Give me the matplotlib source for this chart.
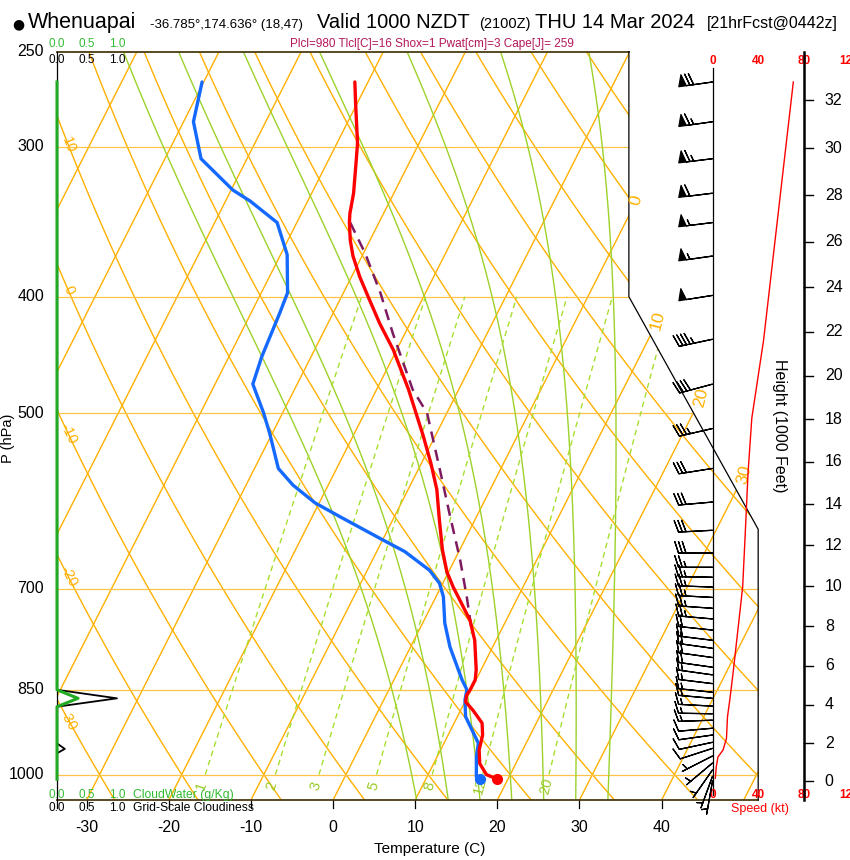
import numpy as np
import matplotlib
matplotlib.use("Agg")
import matplotlib.pyplot as plt
from matplotlib.path import Path
from matplotlib.patches import PathPatch
from matplotlib.transforms import offset_copy

plt.rcParams['font.family'] = ['Liberation Sans', 'DejaVu Sans']

# ---- sounding (hPa / deg C) ----
temp_p = [265, 276, 298, 308, 328, 341, 347, 359, 370, 385, 401, 421, 443, 478, 491,
          523, 551, 579, 614, 650, 678, 698, 720, 744, 773, 818, 834, 850, 859, 870,
          884, 906, 927, 954, 979, 1000, 1009]
temp_c = [-41.6, -40.2, -37.5, -36.6, -34.9, -34.1, -33.6, -32.4, -31.1, -29.0, -26.6, -23.7,
          -20.4, -16.1, -14.7, -11.4, -8.8, -6.5, -4.3, -2.1, -0.2, 1.5, 3.5, 5.6, 7.4, 9.4,
          9.9, 9.9, 9.8, 10.1, 11.5, 13.4, 14.2, 14.7, 15.6, 17.1, 18.7]
dewp_p = [265, 286, 307, 326, 333, 347, 369, 397, 413, 449, 473, 500, 520, 556, 574, 594,
          610, 638, 652, 676, 693, 711, 748, 783, 834, 850, 867, 895, 924, 942, 967, 1004, 1009]
dewp_c = [-60.2, -58.8, -55.6, -49.8, -47.0, -42.4, -39.2, -36.8, -36.5, -36.0, -35.4, -32.3,
          -30.3, -27.1, -24.3, -20.5, -16.6, -9.9, -6.6, -2.4, -0.4, 0.9, 2.7, 4.8, 8.3, 9.5,
          9.9, 11.0, 13.0, 14.2, 14.8, 16.0, 16.6]
parcel_p = [347, 368, 397, 429, 478, 500, 558, 606, 663, 712, 758]
parcel_c = [-33.5, -29.8, -25.5, -21.5, -15.6, -12.4, -7.3, -3.5, 0.7, 3.8, 6.4]
sfc_p = 1009
sfc_t = 18.7
sfc_td = 16.6

# wind barbs
wind_p = [265, 286, 307, 328, 347, 370, 399, 434, 473, 515, 556, 593, 626, 654, 672, 685,
          698, 712, 727, 742, 758, 773, 785, 799, 814, 826, 840, 854, 864, 877, 890, 901,
          915, 927, 940, 951, 965, 978, 991, 1003, 1012]
wind_kt = [70, 67, 63, 60, 56, 53, 49, 45, 39, 34, 31, 30, 28, 28, 27, 27, 26, 25, 24, 23,
           22, 21, 20, 19, 18, 17, 17, 16, 15, 14, 13, 13, 12, 12, 11, 9, 6, 5, 4, 4, 3]
wind_dir = [262, 262, 263, 263, 263, 262, 261, 258, 255, 257, 261, 265, 267, 270, 270, 271,
            272, 273, 274, 275, 276, 277, 278, 278, 278, 278, 277, 276, 275, 273, 271, 268,
            265, 262, 258, 252, 243, 230, 215, 200, 190]

# wind speed profile (kt)
spd_p = [265, 435, 505, 561, 617, 698, 758, 823, 867, 895, 933, 954, 967, 985, 1007]
spd_kt = [70.8, 44.7, 34.4, 31.1, 29.1, 26.4, 22.2, 18.0, 15.1, 13.1, 12.2, 9.2, 4.7, 3.3, 2.4]

# cloud panel
cloud_p = [265, 850, 864, 878, 942, 952, 960, 1009]
cloud_water = [0, 0, 0.35, 0, 0, 0, 0, 0]
cloudiness = [0, 0, 1.0, 0, 0, 0.13, 0, 0]

isobars = [1000, 850, 700, 500, 400, 300]
p_labels = [250, 300, 400, 500, 700, 850, 1000]
temp_ticks = [-30, -20, -10, 0, 10, 20, 30, 40]
isotherms = list(range(-90, 60, 10))
iso_labels = [0, 10, 20, 30]
dry_theta = list(range(-40, 130, 10))
dry_labels = [10, 0, -10, -20, -30]
moist_thw = [8, 12, 16, 20, 24, 28, 32]
mix_ratio = [1, 2, 3, 5, 8, 12, 20]
height_ticks = list(range(0, 34, 2))
speed_ticks = [0, 40, 80, 120]
cloud_ticks = ['0.0', '0.5', '1.0']

ORANGE = '#FFB000'
ISOBAR = '#FFC447'
MOIST = '#9CD22A'
MIXR = '#A8DE30'
MIXLAB = '#98CC28'
CLOUDG = '#22AA22'


def sky(p):
    return 132.182 - 44.061 * np.log10(p)


def skx(t, p):
    return 0.54 * np.asarray(t) + 0.90692 * sky(p)


def dewpt(e):
    a = np.log(e / 6.112)
    return 243.5 * a / (17.67 - a)


def moist_dtdp(t, p):
    tk = t + 273.15
    es = 6.112 * np.exp(17.67 * t / (t + 243.5))
    rs = 0.622 * es / (p - es)
    lv = 2.501e6
    num = 287.04 * tk + lv * rs
    den = 1005.7 + lv * lv * rs * 0.622 / (287.04 * tk * tk)
    return num / den / p


def moist_adiabat(thw):
    up = np.arange(1000.0, 248.0, -2.0)
    dn = np.arange(1000.0, 1052.0, 2.0)
    res = []
    for grid in (up, dn):
        t = [thw]
        for i in range(1, len(grid)):
            dp = grid[i] - grid[i - 1]
            k1 = moist_dtdp(t[-1], grid[i - 1])
            k2 = moist_dtdp(t[-1] + k1 * dp, grid[i])
            t.append(t[-1] + 0.5 * (k1 + k2) * dp)
        res.append(np.array(t))
    p = np.concatenate([dn[::-1], up[1:]])
    t = np.concatenate([res[1][::-1], res[0][1:]])
    return p, t


fig = plt.figure(figsize=(8.5, 8.6), dpi=100)
ax = fig.add_axes([57 / 850, 60 / 860, 793 / 850, 748.4 / 860])
ybot, ytop = sky(1050), sky(250)
ax.set_xlim(-19, -19 + 793 / 15.21)
ax.set_ylim(ybot, ytop)
ax.axis('off')


def off(dx=0, dy=0):
    return offset_copy(ax.transData, fig=fig, x=dx, y=dy, units='dots')


def angle(x1, y1, x2, y2):
    a = ax.transData.transform((x1, y1))
    b = ax.transData.transform((x2, y2))
    return np.degrees(np.arctan2(b[1] - a[1], b[0] - a[0]))


frame = [(-19, ybot), (27.1, ybot), (27.1, 9.0), (18.6, sky(400)), (18.6, ytop), (-19, ytop)]
frame_path = Path(frame + [frame[0]], closed=True)
clip = PathPatch(frame_path, transform=ax.transData, fc='none', ec='none')
ax.add_patch(clip)

pp = np.geomspace(1050, 250, 80)

# isotherms
for t in isotherms:
    ln, = ax.plot(skx(t, pp), sky(pp), color=ORANGE, lw=1.0, zorder=1)
    ln.set_clip_path(clip)

# dry adiabats
for th in dry_theta:
    tt = (th + 273.15) * (pp / 1000.0) ** 0.2857 - 273.15
    ln, = ax.plot(skx(tt, pp), sky(pp), color=ORANGE, lw=1.0, zorder=1)
    ln.set_clip_path(clip)

# isobars
for p in isobars:
    ln, = ax.plot([-19, 27.1], [sky(p), sky(p)], color=ISOBAR, lw=0.9, zorder=1)
    ln.set_clip_path(clip)

# moist adiabats
for thw in moist_thw:
    mp, mt = moist_adiabat(thw)
    ln, = ax.plot(skx(mt, mp), sky(mp), color=MOIST, lw=1.0, zorder=1)
    ln.set_clip_path(clip)

# mixing ratio lines
pm = np.linspace(1000, 400, 40)
for w in mix_ratio:
    td = dewpt(w * pm / (622.0 + w))
    ln, = ax.plot(skx(td, pm), sky(pm), color=MIXR, lw=1.0, ls=(0, (4, 3)), zorder=1)
    ln.set_clip_path(clip)
    tl = dewpt(w * 1022.0 / (622.0 + w))
    rot = angle(skx(td[0], 1000), sky(1000), skx(td[-1], 400), sky(400))
    ax.text(skx(tl, 1022), sky(1022), str(w), color=MIXLAB, fontsize=10.5, rotation=rot,
            ha='center', va='center', zorder=2)

# frame outline
ax.plot([-19, 27.1], [ybot, ybot], color='#4A3C12', lw=1.3, zorder=3, clip_on=False)
ax.plot([-19, 18.6], [ytop, ytop], color='#4A3C12', lw=1.3, zorder=3, clip_on=False)
ax.plot([18.6, 18.6, 27.1, 27.1], [ytop, sky(400), 9.0, ybot], color='black', lw=0.9,
        zorder=3, clip_on=False)
ax.plot([-19, -19], [ybot, ytop], color='black', lw=0.9, zorder=3, clip_on=False)

# isotherm labels on right boundary
ys = np.linspace(ybot, ytop, 3000)
for t in iso_labels:
    xs = 0.54 * t + 0.90692 * ys
    inside = frame_path.contains_points(np.column_stack([xs, ys]))
    k = np.argmax(~inside & (np.arange(len(ys)) > np.argmax(inside)))
    yl = ys[k] + 0.55
    xl = 0.54 * t + 0.90692 * yl
    rot = angle(xl, yl - 1, 0.54 * t + 0.90692 * (yl + 1), yl + 1)
    ax.text(xl, yl, str(t), color=ORANGE, fontsize=12.5, rotation=rot, ha='center',
            va='center', clip_on=False)

# dry adiabat labels on left boundary
pf = np.geomspace(1050, 250, 4000)
for th in dry_labels:
    tt = (th + 273.15) * (pf / 1000.0) ** 0.2857 - 273.15
    xs = skx(tt, pf)
    k = np.argmin(np.abs(xs - (-18.25)))
    rot = angle(xs[k - 40], sky(pf[k - 40]), xs[k + 40], sky(pf[k + 40]))
    if rot > 90:
        rot -= 180
    ax.text(xs[k], sky(pf[k]), str(th), color=ORANGE, fontsize=10.5, rotation=rot,
            ha='center', va='center')

# cloud panel (left edge)
cscale = 60 / 15.21
ax.plot(-19 + cscale * np.array(cloudiness), sky(np.array(cloud_p)), color='black',
        lw=1.3, zorder=4, clip_on=False)
ax.plot(-19 + cscale * np.array(cloud_water), sky(np.array(cloud_p)), color=CLOUDG,
        lw=2.2, zorder=5, clip_on=False)
for i, s in enumerate(cloud_ticks):
    xc = -19 + cscale * float(s)
    ax.text(xc, ytop, s, color='#33BB33', fontsize=8.5, ha='center', va='center',
            transform=off(0, 8))
    ax.text(xc, ytop, s, color='black', fontsize=8.5, ha='center', va='center',
            transform=off(0, -8))
    ax.text(xc, ybot, s, color='#33BB33', fontsize=8.5, ha='center', va='center',
            transform=off(0, 5))
    ax.text(xc, ybot, s, color='black', fontsize=8.5, ha='center', va='center',
            transform=off(0, -8))
ax.text(-19 + cscale * 1.27, ybot, 'CloudWater (g/Kg)', color='#33BB33', fontsize=8.7,
        ha='left', va='center', transform=off(0, 5))
ax.text(-19 + cscale * 1.27, ybot, 'Grid-Scale Cloudiness', color='black', fontsize=8.7,
        ha='left', va='center', transform=off(0, -8))
ax.plot([-19, -19], [ybot, ybot - 8 / 27.25], color='black', lw=0.9, clip_on=False)

# sounding
ax.plot(skx(parcel_c, np.array(parcel_p)), sky(np.array(parcel_p)), color='#7E1A60', lw=1.8,
        ls=(0, (4.5, 3)), zorder=5)
ax.plot(skx(dewp_c, np.array(dewp_p)), sky(np.array(dewp_p)), color='#1469FF', lw=2.4,
        zorder=6, solid_capstyle='round')
ax.plot(skx(temp_c, np.array(temp_p)), sky(np.array(temp_p)), color='#FF0000', lw=2.4,
        zorder=7, solid_capstyle='round')
ax.plot(skx(sfc_td, sfc_p), sky(sfc_p), 'o', color='#1469FF', ms=7, zorder=8)
ax.plot(skx(sfc_t, sfc_p), sky(sfc_p), 'o', color='#FF0000', ms=7, zorder=8)

# pressure labels
for p in p_labels:
    ax.text(-19, sky(p), str(p), fontsize=11.5, ha='right', va='center', transform=off(-13, 0))

# temperature ticks
for t in temp_ticks:
    xt = skx(t, 1050)
    ax.plot([xt, xt], [ybot, ybot - 8 / 27.25], color='black', lw=0.9, clip_on=False)
    ax.text(xt, ybot, str(t), fontsize=11.5, ha='center', va='center', transform=off(0, -28))

# speed / height panel
xs0 = 24.1
kscale = 0.075
ax.plot([xs0, xs0], [ybot + 5 / 27.25, ytop - 16 / 27.25], color='black', lw=0.9, zorder=3,
        clip_on=False)
for s in speed_ticks:
    ax.text(xs0 + kscale * s, ytop, str(s), color='red', fontsize=8.5, fontweight='bold',
            ha='center', va='center', transform=off(0, -9), clip_on=False)
    ax.text(xs0 + kscale * s, ybot, str(s), color='red', fontsize=8.5, fontweight='bold',
            ha='center', va='center', transform=off(0, 5), clip_on=False)
ax.text(xs0 + kscale * 40, ybot, 'Speed (kt)', color='red', fontsize=9, ha='center',
        va='center', transform=off(2, -9))
ax.plot(xs0 + kscale * np.array(spd_kt), sky(np.array(spd_p)), color='red', lw=1.0, zorder=4)

wd = np.radians(wind_dir)
u = -np.array(wind_kt) * np.sin(wd)
v = -np.array(wind_kt) * np.cos(wd)
ax.barbs(np.full(len(wind_p), xs0), sky(np.array(wind_p)), u, v, length=7, lw=0.9,
         sizes=dict(spacing=0.11, height=0.34, width=0.22, emptybarb=0.05), zorder=6,
         clip_on=False)

xh = xs0 + kscale * 80
ax.plot([xh, xh], [ybot, ytop], color='black', lw=1.8, zorder=3, clip_on=False)
for h in height_ticks:
    ph = 1013.25 * (1 - 6.8756e-6 * h * 1000) ** 5.2559
    ax.plot([xh, xh + 9 / 15.21], [sky(ph), sky(ph)], color='black', lw=1.0, clip_on=False)
    ax.text(xh, sky(ph), str(h), fontsize=11.5, ha='left', va='center', transform=off(21, 0),
            clip_on=False)

fig.text(780 / 850, 1 - 426 / 860, 'Height (1000 Feet)', rotation=-90, fontsize=11.5,
         ha='center', va='center')
fig.text(8 / 850, 1 - 438 / 860, 'P (hPa)', rotation=90, fontsize=10.5, ha='center',
         va='center')
fig.text(430 / 850, 1 - 849 / 860, 'Temperature (C)', fontsize=11, ha='center', va='center')

# title line
fig.text(12 / 850, 1 - 28 / 860, '\u25cf', fontsize=10, ha='left', va='baseline',
         family='DejaVu Sans')
fig.text(28 / 850, 1 - 28 / 860, 'Whenuapai', fontsize=15.5, ha='left', va='baseline')
fig.text(150 / 850, 1 - 28 / 860, '-36.785\u00b0,174.636\u00b0 (18,47)', fontsize=9.5,
         ha='left', va='baseline')
fig.text(317 / 850, 1 - 28 / 860, 'Valid 1000 NZDT', fontsize=14.5, ha='left', va='baseline')
fig.text(479 / 850, 1 - 28 / 860, '(2100Z)', fontsize=10.5, ha='left', va='baseline')
fig.text(535 / 850, 1 - 28 / 860, 'THU 14 Mar 2024', fontsize=14.5, ha='left', va='baseline')
fig.text(707 / 850, 1 - 28 / 860, '[21hrFcst@0442z]', fontsize=11.5, ha='left', va='baseline')
fig.text(432 / 850, 1 - 44 / 860, 'Plcl=980 Tlcl[C]=16 Shox=1 Pwat[cm]=3 Cape[J]= 259',
         color='#B3175A', fontsize=8.5, ha='center', va='center')

fig.savefig('out.png', dpi=100)
